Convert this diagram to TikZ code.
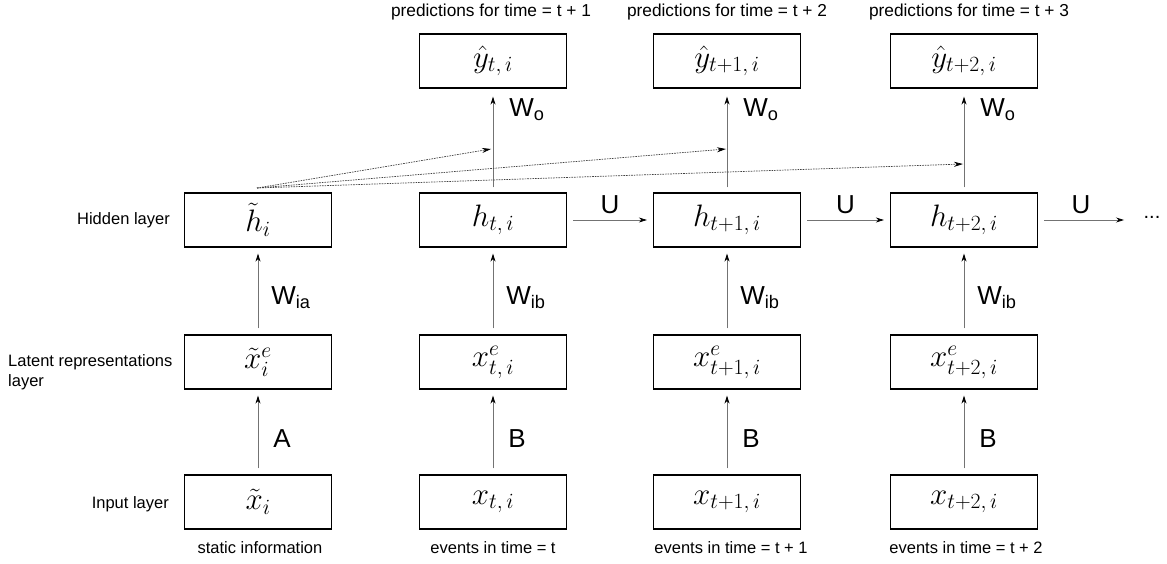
\RequirePackage{fix-cm}
\documentclass[tikz,border=0pt]{standalone}
\usepackage{fontspec}
\setmainfont{Liberation Sans}
\usetikzlibrary{arrows.meta}
\begin{document}
\begin{tikzpicture}[x=1pt,y=-1pt,
  box/.style={draw, line width=1.2pt, minimum width=147pt, minimum height=54pt, inner sep=0pt, font=\fontsize{31}{33}\selectfont},
  conn/.style={draw=black!55, line width=0.8pt, -{Stealth[length=8pt,width=5pt,black]}, shorten >=6pt, shorten <=6pt},
  dotconn/.style={draw=black!75, line width=0.7pt, dash pattern=on 1.6pt off 1pt, -{Stealth[length=9pt,width=5pt,black]}},
  elab/.style={font=\fontsize{26}{28}\selectfont, inner sep=0pt},
  txt/.style={font=\fontsize{16.5}{19}\selectfont, inner sep=0pt},
  toptxt/.style={font=\fontsize{17.3}{20}\selectfont, inner sep=0pt}
]
\useasboundingbox (0,0) rectangle (1167,564);

% boxes
\node[box] (y2) at (493,61) {$\hat{y}_{t,\,i}$};
\node[box] (y3) at (727,61) {$\hat{y}_{t+1,\,i}$};
\node[box] (y4) at (964,61) {$\hat{y}_{t+2,\,i}$};

\node[box] (h1) at (258,220) {$\tilde{h}_{i}$};
\node[box] (h2) at (493,220) {$h_{t,\,i}$};
\node[box] (h3) at (727,220) {$h_{t+1,\,i}$};
\node[box] (h4) at (964,220) {$h_{t+2,\,i}$};

\node[box] (l1) at (258,362) {$\tilde{x}^{e}_{i}$};
\node[box] (l2) at (493,362) {$x^{e}_{t,\,i}$};
\node[box] (l3) at (727,362) {$x^{e}_{t+1,\,i}$};
\node[box] (l4) at (964,362) {$x^{e}_{t+2,\,i}$};

\node[box] (x1) at (258,502) {$\tilde{x}_{i}$};
\node[box] (x2) at (493,502) {$x_{t,\,i}$};
\node[box] (x3) at (727,502) {$x_{t+1,\,i}$};
\node[box] (x4) at (964,502) {$x_{t+2,\,i}$};

% top and bottom labels
\node[toptxt] (p2) at (491,12) {predictions for time = t + 1};
\node[toptxt] (p3) at (727,12) {predictions for time = t + 2};
\node[toptxt] (p4) at (969,12) {predictions for time = t + 3};

\node[txt] (b1) at (260,548) {static information};
\node[txt] (b2) at (493,548) {events in time = t};
\node[txt] (b3) at (731,548) {events in time = t + 1};
\node[txt] (b4) at (966,548) {events in time = t + 2};

% left labels
\node[txt, anchor=east] (lh) at (170,220) {Hidden layer};
\node[txt, anchor=west, align=left] (ll) at (8,372) {Latent representations\\[1pt]layer};
\node[txt, anchor=east] (li) at (169,504) {Input layer};

% input -> latent
\draw[conn] (x1) -- node[elab, right=15pt, yshift=-7pt] {A} (l1);
\draw[conn] (x2) -- node[elab, right=15pt, yshift=-7pt] {B} (l2);
\draw[conn] (x3) -- node[elab, right=15pt, yshift=-7pt] {B} (l3);
\draw[conn] (x4) -- node[elab, right=15pt, yshift=-7pt] {B} (l4);

% latent -> hidden
\draw[conn] (l1) -- node[elab, right=13pt, yshift=-7pt] {W\textsubscript{ia}} (h1);
\draw[conn] (l2) -- node[elab, right=13pt, yshift=-7pt] {W\textsubscript{ib}} (h2);
\draw[conn] (l3) -- node[elab, right=13pt, yshift=-7pt] {W\textsubscript{ib}} (h3);
\draw[conn] (l4) -- node[elab, right=13pt, yshift=-7pt] {W\textsubscript{ib}} (h4);

% hidden -> output
\draw[conn, shorten <=5pt, shorten >=8pt] (h2) -- node[elab, pos=0.8, right=16pt] {W\textsubscript{o}} (y2);
\draw[conn, shorten <=5pt, shorten >=8pt] (h3) -- node[elab, pos=0.8, right=16pt] {W\textsubscript{o}} (y3);
\draw[conn, shorten <=5pt, shorten >=8pt] (h4) -- node[elab, pos=0.8, right=16pt] {W\textsubscript{o}} (y4);

% recurrent
\draw[conn] (h2) -- node[elab, above=6pt] {U} (h3);
\draw[conn] (h3) -- node[elab, above=6pt] {U} (h4);
\coordinate (hend) at (1124,220);
\draw[conn, shorten >=0pt] (h4) -- node[elab, above=6pt] {U} (hend);
\node[font=\fontsize{20}{20}\selectfont, inner sep=0pt] (dots) at (1152,217) {...};

% static hidden -> outputs (dotted)
\coordinate (s) at (257,188);
\coordinate (d2) at (491,149);
\coordinate (d3) at (726,149);
\coordinate (d4) at (963,164);
\draw[dotconn] (s) -- (d2);
\draw[dotconn] (s) -- (d3);
\draw[dotconn] (s) -- (d4);
\end{tikzpicture}
\end{document}
